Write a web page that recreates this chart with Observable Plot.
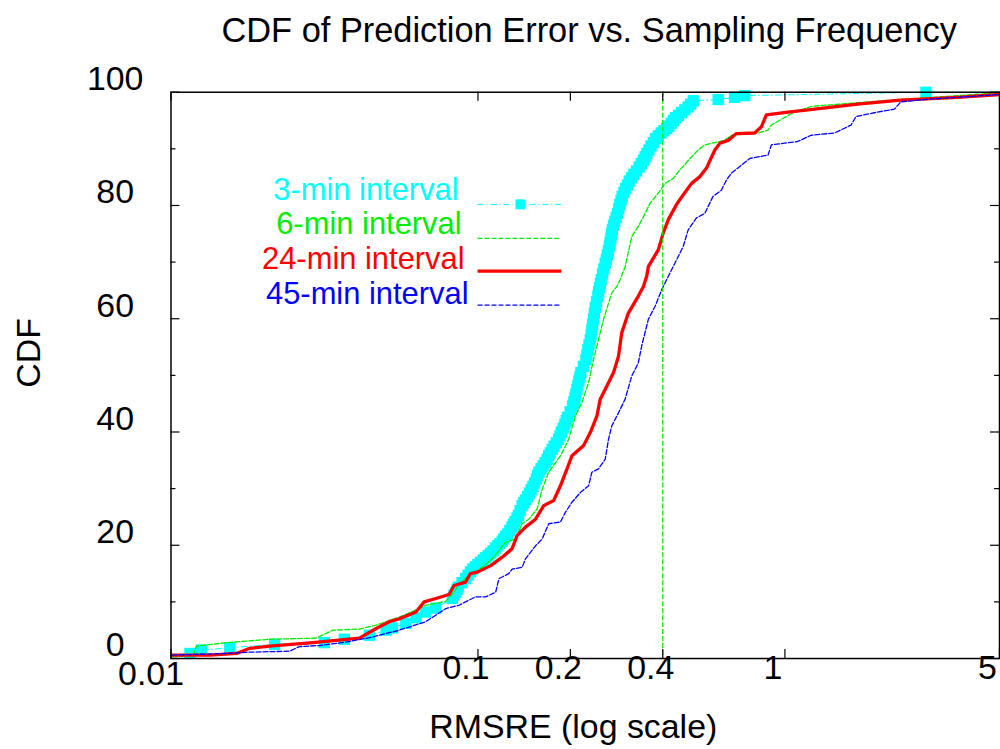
<!DOCTYPE html>
<html><head><meta charset="utf-8">
<script src="https://cdn.jsdelivr.net/npm/d3@7"></script>
<script src="https://cdn.jsdelivr.net/npm/@observablehq/plot@0.6"></script>
<style>html,body{margin:0;padding:0;background:#fff;overflow:hidden;width:1000px;height:749px}</style>
</head><body><div id="chart"></div>
<script>
// ---- data (x = RMSRE, y = CDF %) ----
const title = "CDF of Prediction Error vs. Sampling Frequency";
const xLabel = "RMSRE (log scale)";
const yLabel = "CDF";
const xTicks = [0.01, 0.1, 0.2, 0.4, 1, 5];
const xTickLabels = ["0.01", "0.1", "0.2", "0.4", "1", "5"];
const yMajor = [0, 20, 40, 60, 80, 100];
const yMinor = [10, 30, 50, 70, 90];
const threshold = [0.4];
const seriesNames = ["3-min interval", "6-min interval", "24-min interval", "45-min interval"];

const series3 = [[0.01153,0.9],[0.01258,1.5],[0.01554,1.9],[0.02176,2.5],[0.0316,2.8],[0.0367,3.4],[0.0443,4.1],[0.0502,5.0],[0.0527,5.4],[0.0582,6.2],[0.0628,7.2],[0.0676,8.2],[0.0729,8.9],
[0.0825,10.6],[0.0836,11.2],[0.0847,11.7],[0.0855,12.2],[0.0862,12.6],[0.0888,13.4],[0.0912,14.1],[0.0928,14.7],[0.0945,15.3],[0.0962,15.8],[0.098,16.2],[0.100,16.6],[0.102,17.0],[0.104,17.4],[0.106,17.8],[0.108,18.2],[0.110,18.6],[0.112,19.0],[0.114,19.5],[0.116,19.9],[0.118,20.3],[0.120,20.7],[0.1214,21.1],[0.123,21.6],[0.125,22.0],[0.127,22.6],[0.129,23.2],[0.1305,23.7],[0.132,24.2],[0.134,24.8],[0.1355,25.3],[0.1372,26.1],[0.1393,27.0],[0.141,27.5],[0.143,28.0],[0.145,28.6],[0.147,29.2],[0.149,29.8],[0.151,30.4],[0.153,31.0],[0.155,31.7],[0.1565,32.3],[0.158,32.9],[0.1605,33.5],[0.163,34.0],[0.1655,34.6],[0.168,35.2],[0.170,35.8],[0.172,36.3],[0.1745,36.9],[0.177,37.5],[0.180,38.1],[0.183,38.7],[0.185,39.3],[0.187,40.0],[0.1895,40.7],[0.192,41.4],[0.194,42.0],[0.196,42.6],[0.1997,43.6],[0.2034,44.6],[0.2052,45.3],[0.207,46.0],[0.2085,46.7],[0.210,47.5],[0.2115,48.2],[0.213,49.0],[0.2147,49.7],[0.2164,50.5],[0.2205,51.6],[0.2247,52.8],[0.2263,53.6],[0.228,54.5],[0.230,55.4],[0.2322,56.3],[0.2336,57.2],[0.235,58.1],[0.2365,59.0],[0.238,60.0],[0.2395,61.0],[0.241,62.0],[0.2433,63.0],[0.2457,64.0],[0.2473,64.8],[0.249,65.5],[0.2505,66.2],[0.252,66.9],[0.2545,67.9],[0.257,68.8],[0.2598,69.8],[0.262,70.5],[0.264,71.3],[0.266,72.0],[0.268,72.8],[0.2695,73.5],[0.271,74.2],[0.2725,75.0],[0.274,75.7],[0.2765,76.5],[0.279,77.2],[0.282,77.9],[0.285,78.6],[0.2875,79.4],[0.290,80.2],[0.2925,80.9],[0.295,81.6],[0.299,82.3],[0.303,83.0],[0.307,83.6],[0.311,84.3],[0.3165,84.9],[0.322,85.5],[0.3285,86.1],[0.335,86.8],[0.3405,87.4],[0.346,88.0],[0.3505,88.6],[0.355,89.2],[0.3605,89.8],[0.366,90.5],[0.3725,91.1],[0.379,91.8],[0.387,92.3],[0.395,92.8],[0.4035,93.2],[0.412,93.6],[0.419,94.0],[0.426,94.5],[0.433,95.0],[0.440,95.5],[0.450,95.9],[0.460,96.4],[0.472,96.9],[0.484,97.4],[0.493,97.9],[0.503,98.5],
[0.606,98.7],[0.685,99.1],[0.74,99.4],[2.88,100]];
const series3Tail = [[5,100]];

const series6 = [[0.0101,0.3],[0.0118,0.5],[0.0121,2.2],[0.01516,2.8],[0.02096,3.4],[0.0297,3.6],[0.0337,5.0],[0.0411,5.2],[0.0466,5.9],[0.0554,7.3],[0.0643,8.8],[0.0676,9.4],[0.0785,10.1],[0.0836,11.7],[0.0867,13.2],[0.0935,14.7],[0.1,15.5],[0.1113,17.6],[0.123,20.5],[0.1326,21.1],[0.1393,23.8],[0.1464,24.6],[0.1558,26.4],[0.1618,29.9],[0.170,32.9],[0.1856,35.8],[0.1975,38.7],[0.2076,42.8],[0.218,45.2],[0.2293,48.7],[0.2379,52.8],[0.244,55.2],[0.2565,59.9],[0.273,64.6],[0.2834,65.7],[0.2905,66.9],[0.3016,69.2],[0.317,74.5],[0.333,76.3],[0.346,78.0],[0.3637,80.4],[0.387,82.2],[0.407,83.9],[0.433,84.8],[0.455,86.3],[0.4964,88.6],[0.522,89.8],[0.548,90.7],[0.637,91.5],[0.669,92.4],[0.817,92.8],[0.881,93.3],[0.903,94.2],[1.048,96.2],[1.217,97.5],[2.213,98.6],[5,99.9]];

const series24 = [[0.0101,0.6],[0.01125,0.6],[0.0134,0.6],[0.01634,0.9],[0.01805,1.8],[0.02096,2.2],[0.029,2.8],[0.0345,3.2],[0.0411,3.6],[0.0466,5.3],[0.0514,6.5],[0.0554,7.0],[0.0628,8.2],[0.0668,10.0],[0.0729,10.6],[0.0805,11.3],[0.0836,12.9],[0.0912,13.5],[0.0945,15.0],[0.1,15.3],[0.11,16.4],[0.120,17.9],[0.1292,19.4],[0.1341,21.7],[0.1428,23.2],[0.154,24.6],[0.1638,27.0],[0.1765,27.9],[0.1856,30.5],[0.195,33.5],[0.2024,35.8],[0.2209,37.6],[0.2322,39.9],[0.244,42.8],[0.2502,45.8],[0.2662,48.7],[0.2765,50.5],[0.287,53.4],[0.294,57.5],[0.309,61.0],[0.333,64.0],[0.346,65.7],[0.3545,67.5],[0.359,69.2],[0.387,72.2],[0.4017,75.2],[0.417,77.5],[0.4437,80.2],[0.4665,81.9],[0.4964,83.9],[0.5285,85.1],[0.5552,86.6],[0.5912,89.8],[0.6138,91.0],[0.6529,91.5],[0.695,92.7],[0.797,92.8],[0.838,93.9],[0.870,96.0],[1.023,96.5],[1.249,97.0],[1.726,97.9],[2.381,98.6],[3.646,99.1],[5,99.6]];

const series45 = [[0.0101,0.6],[0.01516,0.9],[0.01762,1.1],[0.02434,1.3],[0.0262,2.1],[0.0305,2.3],[0.0372,2.9],[0.0454,3.8],[0.0554,5.0],[0.0676,6.5],[0.0785,8.8],[0.0867,9.4],[0.0983,10.9],[0.106,10.9],[0.1142,11.7],[0.117,14.1],[0.126,15.0],[0.1292,15.8],[0.1393,16.1],[0.1428,17.6],[0.154,19.9],[0.1618,21.1],[0.170,23.8],[0.1856,24.1],[0.1926,25.8],[0.2024,27.6],[0.2155,29.3],[0.2293,30.5],[0.235,32.9],[0.247,33.5],[0.2598,35.2],[0.2662,38.7],[0.273,41.1],[0.287,43.4],[0.3016,45.8],[0.317,49.9],[0.333,52.2],[0.3415,55.2],[0.359,59.9],[0.3776,62.2],[0.3967,65.1],[0.417,67.5],[0.4437,70.4],[0.4665,72.8],[0.484,75.7],[0.515,77.8],[0.548,78.6],[0.583,81.6],[0.621,82.7],[0.645,84.5],[0.669,85.7],[0.713,86.9],[0.768,88.3],[0.881,88.9],[0.903,90.7],[1.10,91.3],[1.217,92.4],[1.45,92.8],[1.642,94.2],[1.704,95.7],[2.004,96.5],[2.271,97.0],[2.386,98.3],[2.842,98.7],[3.646,99.1],[5,99.6]];

// ---- styles ----
const C3 = "#00ffff", C6 = "#00ee00", C24 = "#ff0000", C45 = "#0000ff";
const W = 1003, H = 749, ML = 171, MR = 1, MT = 92, MB = 89;
const PW = W - ML - MR, PH = H - MT - MB;
const font = "'Liberation Sans', Arial, Helvetica, sans-serif";
const X = d => d[0], Y = d => d[1];
const labelOf = d => xTickLabels[xTicks.indexOf(d)];

const chart = Plot.plot({
  width: W, height: H,
  marginLeft: ML, marginRight: MR, marginTop: MT, marginBottom: MB,
  x: {type: "log", domain: [0.01, 5], axis: null},
  y: {domain: [0, 100], axis: null},
  style: {fontFamily: font, fontSize: "34px", background: "white", color: "black", overflow: "hidden"},
  marks: [
    Plot.line(series3.concat(series3Tail), {x: X, y: Y, stroke: C3, strokeWidth: 1, strokeDasharray: "6,3,1,3"}),
    Plot.dot(series3, {x: X, y: Y, symbol: "square", r: 6.4, fill: C3, stroke: "none"}),
    Plot.line(series6, {x: X, y: Y, stroke: C6, strokeWidth: 1.3, strokeDasharray: "5,2"}),
    Plot.line(series24, {x: X, y: Y, stroke: C24, strokeWidth: 3.3}),
    Plot.line(series45, {x: X, y: Y, stroke: C45, strokeWidth: 1.3, strokeDasharray: "5,2"}),
    Plot.ruleX(threshold, {stroke: C6, strokeWidth: 1.3, strokeDasharray: "5,2"}),
    Plot.frame({stroke: "black", strokeWidth: 1.5}),
    Plot.ruleX(xTicks, {insetTop: PH - 9, stroke: "black", strokeWidth: 1.2}),
    Plot.ruleX(xTicks, {insetBottom: PH - 9, stroke: "black", strokeWidth: 1.2}),
    Plot.ruleY(yMajor, {insetRight: PW - 9, stroke: "black", strokeWidth: 1.2}),
    Plot.ruleY(yMajor, {insetLeft: PW - 9, stroke: "black", strokeWidth: 1.2}),
    Plot.ruleY(yMinor, {insetRight: PW - 5, stroke: "black", strokeWidth: 1.2}),
    Plot.ruleY(yMinor, {insetLeft: PW - 5, stroke: "black", strokeWidth: 1.2}),
    Plot.text(xTicks.slice(0, 1), {x: d => d, frameAnchor: "bottom", dy: 27, dx: -20, text: labelOf, fontSize: 34, fill: "black"}),
    Plot.text(xTicks.slice(1), {x: d => d, frameAnchor: "bottom", dy: 21, dx: -12, text: labelOf, fontSize: 34, fill: "black"}),
    Plot.text(yMajor, {y: d => d, frameAnchor: "left", dx: -56, dy: -13, textAnchor: "middle", text: d => String(d), fontSize: 34, fill: "black"})
  ]
});
document.getElementById("chart").appendChild(chart);

// ---- title, axis labels, legend ----
const svg = d3.select(chart);
svg.append("text").attr("x", 591).attr("y", 42).attr("text-anchor", "middle")
  .attr("font-family", font).attr("font-size", 34.5).attr("fill", "black").text(title);
svg.append("text").attr("x", 575).attr("y", 740).attr("text-anchor", "middle")
  .attr("font-family", font).attr("font-size", 34).attr("fill", "black").text(xLabel);
svg.append("text").attr("transform", "translate(31,354) rotate(-90)").attr("text-anchor", "middle")
  .attr("dominant-baseline", "middle")
  .attr("font-family", font).attr("font-size", 34).attr("fill", "black").text(yLabel);

const legendColors = [C3, C6, C24, C45];
const legendWidths = [1, 1.3, 3.3, 1.3];
const legendDash = ["6,3,1,3", "5,2", null, "5,2"];
const legendTextRight = [460, 463, 466, 470];
const legendTextY = [192, 227, 262, 297];
const legendLineY = [205, 239, 272, 306];
const lg = svg.append("g");
seriesNames.forEach((name, i) => {
  lg.append("text").attr("x", legendTextRight[i]).attr("y", legendTextY[i])
    .attr("text-anchor", "end").attr("dominant-baseline", "middle")
    .attr("font-family", font).attr("font-size", 31).attr("fill", legendColors[i]).text(name);
  const ln = lg.append("line").attr("x1", 479).attr("x2", 563)
    .attr("y1", legendLineY[i]).attr("y2", legendLineY[i])
    .attr("stroke", legendColors[i]).attr("stroke-width", legendWidths[i]);
  if (legendDash[i]) ln.attr("stroke-dasharray", legendDash[i]);
});
lg.append("rect").attr("x", 522 - 5).attr("y", legendLineY[0] - 5).attr("width", 10).attr("height", 10).attr("fill", C3);
</script>
</body></html>
